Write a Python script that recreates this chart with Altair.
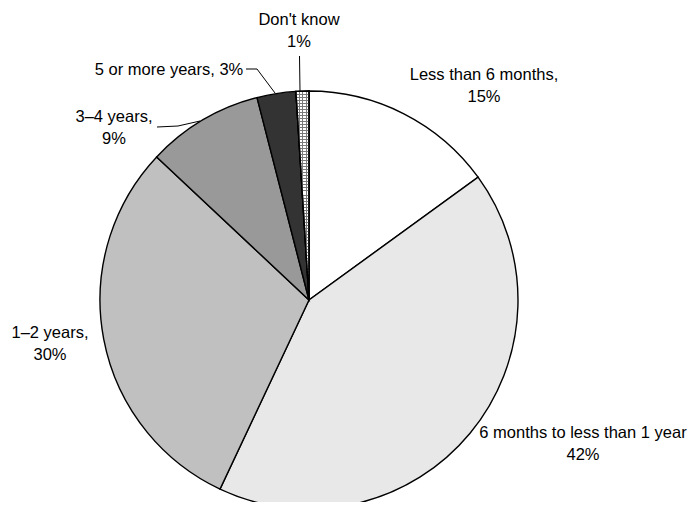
import altair as alt
import pandas as pd

# ---- data ----
categories = ["Less than 6 months", "6 months to less than 1 year", "1–2 years",
              "3–4 years", "5 or more years", "Don't know"]
values = [15, 42, 30, 9, 3, 1]

# ---- styling / layout (not data) ----
colors = ["#ffffff", "#e8e8e8", "#c0c0c0", "#999999", "#333333", "#ffffff"]
label_sep = [",\n", "\n", ",\n", ",\n", ", ", "\n"]
label_x = [476, 575, 42, 106, 161, 291]
label_y = [67, 425, 325, 109, 62, 12]
leader_x = [[291.5, 292], [238, 249, 267], [149, 170, 192]]
leader_y = [[48, 83], [61, 61, 85], [119, 118, 113]]
CX, CY, R = 301, 292, 209

df = pd.DataFrame({"category": categories, "value": values, "order": range(len(values))})

base = (
    alt.Chart(df)
    .transform_window(cum="sum(value)", sort=[alt.SortField("order")], frame=[None, 0])
    .transform_calculate(start="datum.cum - datum.value")
)
theta_enc = alt.Theta("start:Q", scale=alt.Scale(domain=[0, 100]))

pie = base.mark_arc(outerRadius=R, stroke="black", strokeWidth=1.4).encode(
    theta=theta_enc,
    theta2="cum:Q",
    color=alt.Color("category:N", scale=alt.Scale(domain=categories, range=colors), legend=None),
    x=alt.value(CX),
    y=alt.value(CY),
)


def stripes(n, frac, vertical):
    stops = []
    for i in range(n):
        a = i / n
        b = a + frac / n
        stops += [
            {"offset": a, "color": "#7a7a7a"},
            {"offset": b, "color": "#7a7a7a"},
            {"offset": b, "color": "rgba(255,255,255,0)"},
            {"offset": (i + 1) / n, "color": "rgba(255,255,255,0)"},
        ]
    g = {"gradient": "linear", "stops": stops, "x1": 0, "y1": 0,
         "x2": 1 if vertical else 0, "y2": 0 if vertical else 1}
    return g


dk = base.transform_filter(alt.datum.category == "Don't know")
pat_v = dk.mark_arc(outerRadius=R, fill=stripes(4, 0.3, True), strokeWidth=0).encode(
    theta=theta_enc, theta2="cum:Q", x=alt.value(CX), y=alt.value(CY))
pat_h = dk.mark_arc(outerRadius=R, fill=stripes(70, 0.33, False), strokeWidth=0).encode(
    theta=theta_enc, theta2="cum:Q", x=alt.value(CX), y=alt.value(CY))
outline = dk.mark_arc(outerRadius=R, fillOpacity=0, stroke="black", strokeWidth=1.4).encode(
    theta=theta_enc, theta2="cum:Q", x=alt.value(CX), y=alt.value(CY))

lab_df = pd.DataFrame({
    "label": [f"{c}{s}{v}%" for c, s, v in zip(categories, label_sep, values)],
    "lx": label_x,
    "ly": label_y,
})
labels = alt.Chart(lab_df).mark_text(
    lineBreak="\n", font="Liberation Sans", fontSize=16.5, lineHeight=22,
    align="center", baseline="middle", color="black",
).encode(
    x=alt.X("lx:Q", scale=None),
    y=alt.Y("ly:Q", scale=None),
    text="label:N",
)

rows = []
for i, (xs, ys) in enumerate(zip(leader_x, leader_y)):
    for j, (px, py) in enumerate(zip(xs, ys)):
        rows.append({"id": i, "o": j, "px": px, "py": py})
lead_df = pd.DataFrame(rows)
leaders = alt.Chart(lead_df).mark_line(color="black", strokeWidth=1).encode(
    x=alt.X("px:Q", scale=None),
    y=alt.Y("py:Q", scale=None),
    detail="id:N",
    order="o:Q",
)

chart = (
    alt.layer(pie, pat_v, pat_h, outline, leaders, labels)
    .properties(width=679, height=494, autosize=alt.AutoSizeParams(type="none"), padding=0)
    .configure_view(stroke=None)
)

chart.save("out.html", embed_options={"renderer": "svg", "actions": False})
